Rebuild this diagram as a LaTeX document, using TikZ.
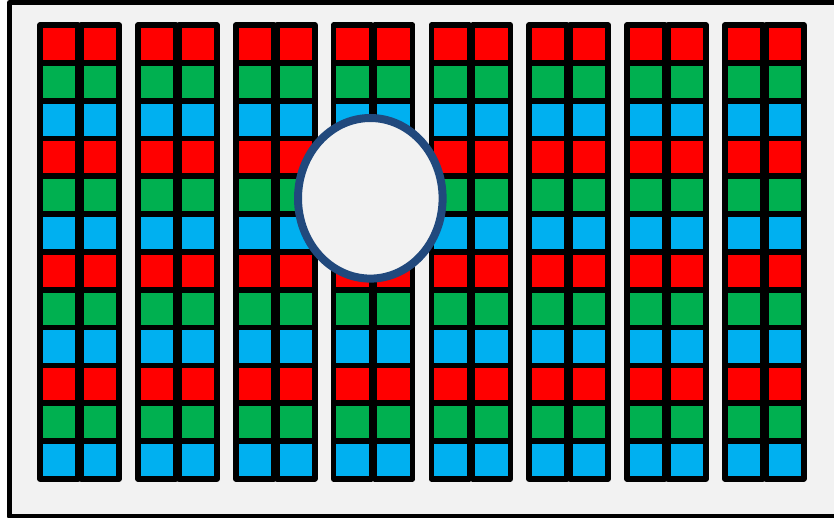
\documentclass[tikz,border=0pt]{standalone}
\usetikzlibrary{positioning}
\definecolor{PanelGray}{RGB}{242,242,242}
\definecolor{PixRed}{RGB}{255,0,0}
\definecolor{PixGreen}{RGB}{0,176,80}
\definecolor{PixBlue}{RGB}{0,176,240}
\definecolor{HoleBlue}{RGB}{33,73,125}
\tikzset{
  panel/.style={draw=black,fill=PanelGray,line width=5pt,line join=round},
  subpix/.style={draw=black,line width=5.7pt,line join=round},
  hole/.style={draw=HoleBlue,fill=PanelGray,line width=8pt},
}
\begin{document}
\begin{tikzpicture}[x=1pt,y=-1pt]
  \useasboundingbox (0,0) rectangle (834,518);
  % display panel, cut off at the right
  \begin{scope}
    \clip (0,0) rectangle (834,518);
    \draw[panel] (9.5,2.5) rectangle (860,516);
  \end{scope}
  % sub-pixel columns
  \foreach \p in {0,...,7}{
    \foreach \s in {0,1}{
      \foreach \g in {0,...,3}{
        \foreach \k/\c in {0/PixRed,1/PixGreen,2/PixBlue}{
          \draw[subpix,fill=\c] ({40.15+97.8*\p+41*\s},{25.15+37.8*(3*\g+\k)})
            rectangle ++(38,37.8);
        }
      }
    }
  }
  % camera hole
  \draw[hole] (370.3,198.3) ellipse [x radius=72.3pt, y radius=80.3pt];
\end{tikzpicture}
\end{document}
